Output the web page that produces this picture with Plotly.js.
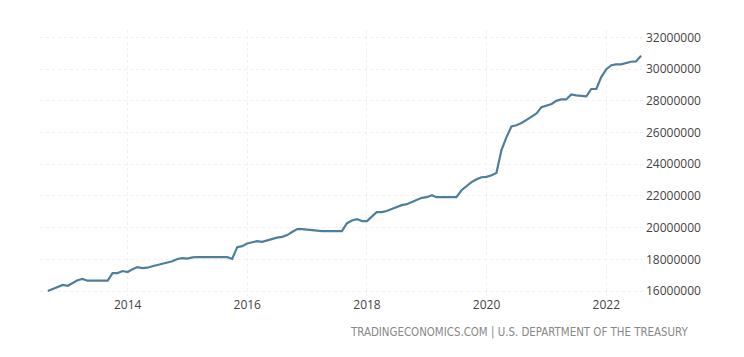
<!DOCTYPE html>
<html>
<head>
<meta charset="utf-8">
<script src="https://cdn.plot.ly/plotly-3.0.1.min.js"></script>
<style>html,body{margin:0;padding:0;background:#fff;}#chart{width:744px;height:357px;}</style>
</head>
<body>
<div id="chart"></div>
<script>
// Monthly dates, Sep 2012 .. Aug 2022
const startYear = 2012, startMonth = 9;
const debtValues = [
  16.00, 16.12, 16.27, 16.38, 16.33, 16.54, 16.68, 16.76, 16.65, 16.65, 16.65, 16.65, 16.65,
  17.13, 17.13, 17.26, 17.20, 17.38, 17.51, 17.45, 17.47, 17.56, 17.64, 17.69, 17.76, 17.88,
  18.02, 18.08, 18.04, 18.12, 18.14, 18.14, 18.14, 18.14, 18.14, 18.14, 18.14, 18.03, 18.77,
  18.83, 19.00, 19.08, 19.15, 19.10, 19.20, 19.30, 19.37, 19.42, 19.53, 19.72, 19.91, 19.91,
  19.88, 19.84, 19.78, 19.78, 19.78, 19.78, 19.78, 19.78, 20.28, 20.45, 20.54, 20.41, 20.41,
  20.70, 20.98, 20.98, 21.05, 21.18, 21.30, 21.42, 21.48, 21.60, 21.73, 21.88, 21.92, 22.05,
  21.92, 21.92, 21.92, 21.92, 21.92, 22.36, 22.60, 22.87, 23.05, 23.18, 23.20, 23.30, 23.45,
  24.90, 25.70, 26.39, 26.46, 26.60, 26.80, 27.00, 27.20, 27.60, 27.72, 27.80, 28.00, 28.09,
  28.09, 28.40, 28.35, 28.30, 28.28, 28.75, 28.75, 29.50, 30.00, 30.25, 30.30, 30.30, 30.40,
  30.47, 30.49, 30.85
];
const yTickVals = [16000000, 18000000, 20000000, 22000000, 24000000, 26000000, 28000000, 30000000, 32000000];
const yTickText = ['16000000','18000000','20000000','22000000','24000000','26000000','28000000','30000000','32000000'];
const xTickVals = ['2014-01-01','2016-01-01','2018-01-01','2020-01-01','2022-01-01'];
const xTickText = ['2014','2016','2018','2020','2022'];
const sourceText = 'TRADINGECONOMICS.COM | U.S. DEPARTMENT OF THE TREASURY';

const dates = debtValues.map((v, i) => {
  const m0 = startMonth - 1 + i;
  const y = startYear + Math.floor(m0 / 12);
  const m = (m0 % 12) + 1;
  return y + '-' + String(m).padStart(2, '0') + '-01';
});
const yVals = debtValues.map(v => Math.round(v * 1000000));

const trace = {
  x: dates, y: yVals, type: 'scatter', mode: 'lines',
  line: {color: '#4d7f9c', width: 2.2, shape: 'linear'},
  hoverinfo: 'x+y'
};

const layout = {
  width: 744, height: 357,
  margin: {l: 40, r: 99, t: 30, b: 61},
  paper_bgcolor: '#ffffff', plot_bgcolor: '#ffffff',
  showlegend: false,
  font: {family: 'Open Sans, sans-serif', size: 12, color: '#444'},
  xaxis: {
    type: 'date',
    range: ['2012-07-15', '2022-08-25'],
    tickvals: xTickVals, ticktext: xTickText,
    showgrid: true, gridcolor: '#f0f0f0', griddash: 'dot', gridwidth: 1,
    zeroline: false, showline: false, ticks: '',
    tickfont: {family: 'Open Sans, sans-serif', size: 12, color: '#444'}
  },
  yaxis: {
    side: 'right',
    range: [15685000, 32472000],
    tickvals: yTickVals, ticktext: yTickText,
    showgrid: true, gridcolor: '#f0f0f0', griddash: 'dot', gridwidth: 1,
    zeroline: false, showline: false, ticks: '',
    tickfont: {family: 'Open Sans, sans-serif', size: 12, color: '#444'}
  },
  annotations: [{
    text: sourceText, xref: 'paper', yref: 'paper',
    x: (690 - 40) / 605, y: -(332 - 296) / 266,
    xanchor: 'right', yanchor: 'middle', showarrow: false,
    font: {family: 'DejaVu Sans Condensed, sans-serif', size: 11.4, color: '#888888'}
  }]
};

Plotly.newPlot('chart', [trace], layout, {displayModeBar: false, staticPlot: true});
</script>
</body>
</html>
